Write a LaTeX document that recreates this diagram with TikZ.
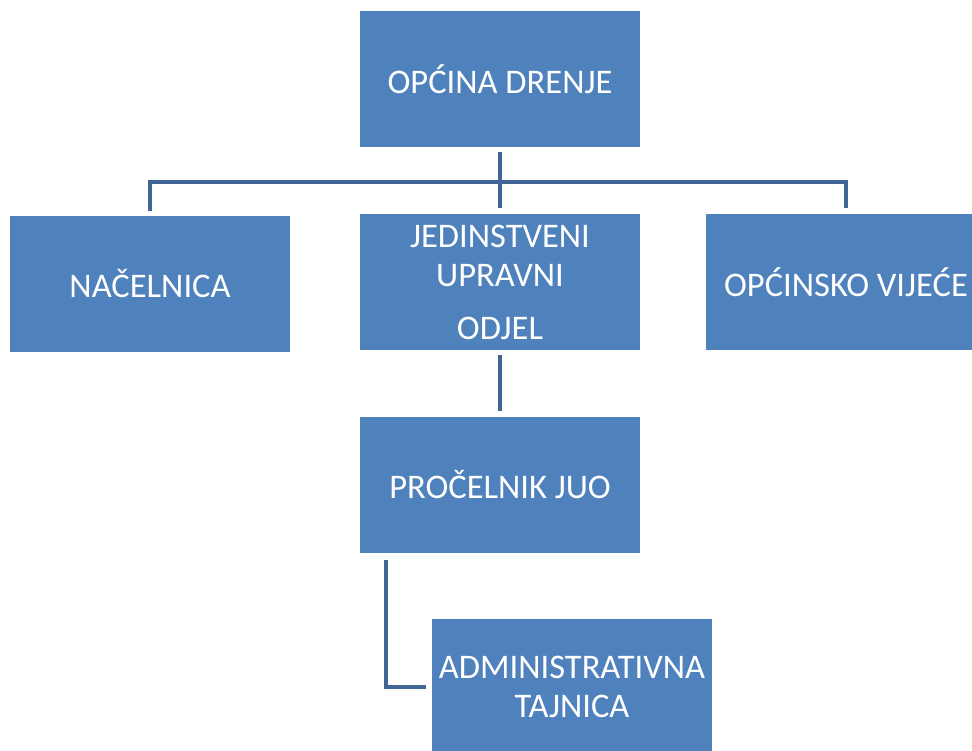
\documentclass[tikz,border=0pt]{standalone}
\usepackage{fontspec}
\setmainfont{Carlito}
\definecolor{boxblue}{RGB}{79,129,189}
\definecolor{lineblue}{RGB}{64,102,152}

\begin{document}
\begin{tikzpicture}
  [x=1pt,y=-1pt,
   every node/.style={rectangle,fill=boxblue,text=white,minimum width=280pt,minimum height=136pt,
     inner sep=0pt,align=center,font=\fontsize{34.5}{39}\selectfont},
   conn/.style={draw=lineblue,line width=4.5pt}]
  \useasboundingbox (0,0) rectangle (972,751);
  \clip (0,0) rectangle (972,751);
  \node (opcina) at (500,79) {OPĆINA DRENJE};
  \node (nac) at (150,284) {NAČELNICA};
  \node (juo) at (500,282) {JEDINSTVENI\\UPRAVNI\\[14pt]ODJEL};
  \node (vijece) at (846,282) {OPĆINSKO VIJEĆE};
  \node (pro) at (500,485) {PROČELNIK JUO};
  \node (adm) at (572,687) {ADMINISTRATIVNA\\TAJNICA};
  \coordinate (bus) at (500,182);

  \foreach \from/\to in {opcina/juo,juo/pro}
    \draw[conn,shorten <=5pt,shorten >=6pt] (\from) -- (\to);
  \draw[conn] ([yshift=5pt]nac.north) |- (bus) -| ([yshift=6pt]vijece.north);
  \draw[conn] ([xshift=-114pt,yshift=-7pt]pro.south) |- ([xshift=-6pt]adm.west);

\end{tikzpicture}
\end{document}
